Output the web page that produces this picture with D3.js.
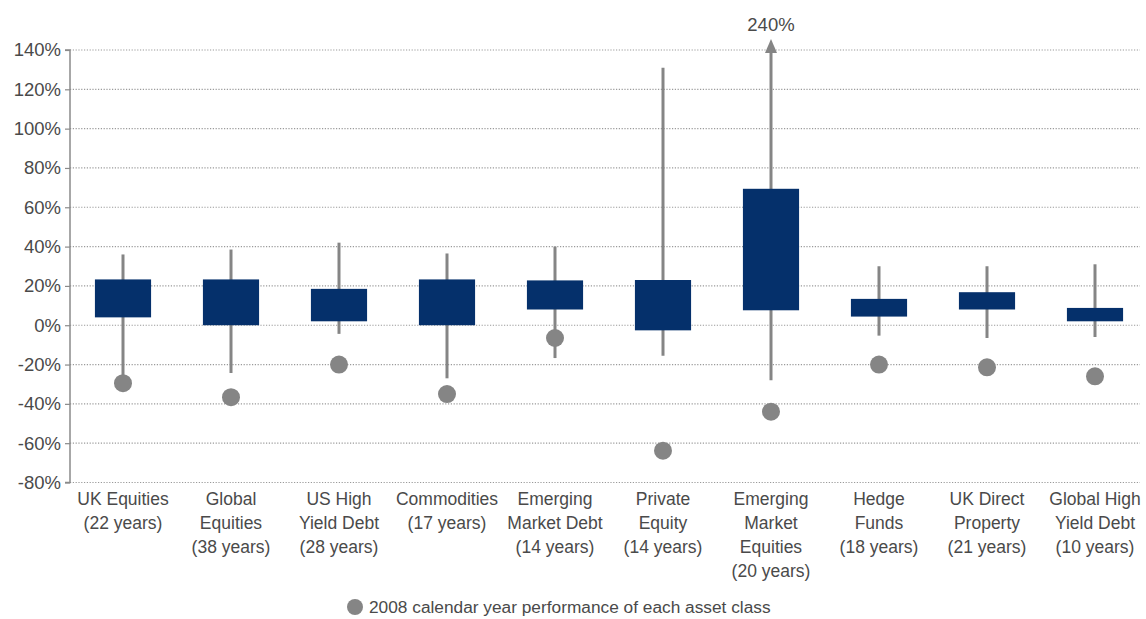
<!DOCTYPE html>
<html>
<head>
<meta charset="utf-8">
<script src="https://cdn.jsdelivr.net/npm/d3@7"></script>
<style>
  body { margin: 0; background: #fff; }
  text { font-family: "Liberation Sans", Arial, sans-serif; fill: #4a4a4a; }
</style>
</head>
<body>
<div id="chart"></div>
<script>
// asset classes, label lines
const categories = ["UK Equities", "Global Equities", "US High Yield Debt", "Commodities",
    "Emerging Market Debt", "Private Equity", "Emerging Market Equities", "Hedge Funds",
    "UK Direct Property", "Global High Yield Debt"];
const labelLines = [
    ["UK Equities", "(22 years)"],
    ["Global", "Equities", "(38 years)"],
    ["US High", "Yield Debt", "(28 years)"],
    ["Commodities", "(17 years)"],
    ["Emerging", "Market Debt", "(14 years)"],
    ["Private", "Equity", "(14 years)"],
    ["Emerging", "Market", "Equities", "(20 years)"],
    ["Hedge", "Funds", "(18 years)"],
    ["UK Direct", "Property", "(21 years)"],
    ["Global High", "Yield Debt", "(10 years)"]
];
// range of annual returns (%)
const whiskerHigh = [36, 38.5, 42, 36.5, 40, 131, 240, 30, 30, 31];
const boxHigh = [23.3, 23.3, 18.5, 23.3, 22.8, 23, 69.4, 13.4, 16.8, 8.8];
const boxLow = [4, 0, 2, 0, 8, -2.6, 7.6, 4.4, 8, 2];
const whiskerLow = [-27, -24.3, -4.4, -27, -16.7, -15.5, -28, -5.3, -6.5, -6];
// 2008 calendar year performance
const perf2008 = [-29.5, -36.6, -20, -35, -6.5, -63.8, -44, -20, -21.4, -26];
const yTicks = [-80, -60, -40, -20, 0, 20, 40, 60, 80, 100, 120, 140];

const width = 1146, height = 619;
const margin = { top: 50, left: 70, right: 6, bottom: 137 };

const svg = d3.select("#chart").append("svg")
    .attr("width", width)
    .attr("height", height);

const data = categories.map((c, i) => ({
    name: c, lines: labelLines[i],
    hi: whiskerHigh[i], q3: boxHigh[i], q1: boxLow[i], lo: whiskerLow[i], p: perf2008[i]
}));

const yScale = d3.scaleLinear()
    .domain([-80, 140])
    .range([height - margin.bottom + 0.5, margin.top]);

const xScale = d3.scaleBand()
    .domain(categories)
    .range([69, 1149])
    .paddingInner(0.48)
    .paddingOuter(0.24);

// dotted gridlines
svg.append("g").selectAll("line")
    .data(yTicks)
    .join("line")
    .attr("x1", margin.left)
    .attr("x2", 1140)
    .attr("y1", d => yScale(d))
    .attr("y2", d => yScale(d))
    .attr("stroke", "#9a9a9a")
    .attr("stroke-width", 1.2)
    .attr("stroke-dasharray", "1.2,1.6");

// y axis
const yAxis = svg.append("g")
    .attr("transform", `translate(${margin.left},0)`)
    .call(d3.axisLeft(yScale).tickValues(yTicks).tickSize(5).tickPadding(4).tickFormat(d => d + "%"));
yAxis.select(".domain").attr("stroke", "#8a8a8a").attr("stroke-width", 1.5).attr("d", `M-5,${yScale(140)}H0V${yScale(-80)}H-5`);
yAxis.selectAll(".tick line").attr("stroke", "#8a8a8a").attr("stroke-width", 1.2);
yAxis.selectAll(".tick text")
    .style("font-family", "'Liberation Sans', Arial, sans-serif")
    .style("font-size", "18.5px")
    .attr("fill", "#4a4a4a");

const cx = d => xScale(d.name) + xScale.bandwidth() / 2;
const arrowTop = yScale(140) - 11;
const yTop = d => d.hi > 140 ? arrowTop + 12 : yScale(d.hi);

// whiskers
svg.append("g").selectAll("line")
    .data(data)
    .join("line")
    .attr("x1", cx).attr("x2", cx)
    .attr("y1", yTop)
    .attr("y2", d => yScale(d.lo))
    .attr("stroke", "#858585")
    .attr("stroke-width", 3);

// arrow for values beyond the axis
const over = data.filter(d => d.hi > 140);
svg.append("g").selectAll("path")
    .data(over)
    .join("path")
    .attr("d", d => `M${cx(d)},${arrowTop} L${cx(d) + 6},${arrowTop + 14} L${cx(d) - 6},${arrowTop + 14} Z`)
    .attr("fill", "#858585");
svg.append("g").selectAll("text")
    .data(over)
    .join("text")
    .attr("x", cx)
    .attr("y", arrowTop - 8)
    .attr("text-anchor", "middle")
    .style("font-size", "18.5px")
    .text(d => d.hi + "%");

// boxes
svg.append("g").selectAll("rect")
    .data(data)
    .join("rect")
    .attr("x", d => xScale(d.name))
    .attr("width", xScale.bandwidth())
    .attr("y", d => yScale(d.q3))
    .attr("height", d => yScale(d.q1) - yScale(d.q3))
    .attr("fill", "#05306b");

// 2008 dots
svg.append("g").selectAll("circle")
    .data(data)
    .join("circle")
    .attr("cx", cx)
    .attr("cy", d => yScale(d.p))
    .attr("r", 9)
    .attr("fill", "#858585");

// category labels
const labels = svg.append("g").selectAll("text")
    .data(data)
    .join("text")
    .attr("text-anchor", "middle")
    .style("font-size", "17.5px");
labels.selectAll("tspan")
    .data(d => d.lines.map(l => ({ l, x: cx(d) })))
    .join("tspan")
    .attr("x", d => d.x)
    .attr("y", (d, i) => 505 + i * 24)
    .text(d => d.l);

// legend
const legend = svg.append("g").attr("transform", "translate(355,607)");
legend.append("circle").attr("r", 8).attr("fill", "#858585");
legend.append("text")
    .attr("x", 14)
    .attr("y", 6)
    .style("font-size", "17.3px")
    .text("2008 calendar year performance of each asset class");
</script>
</body>
</html>
